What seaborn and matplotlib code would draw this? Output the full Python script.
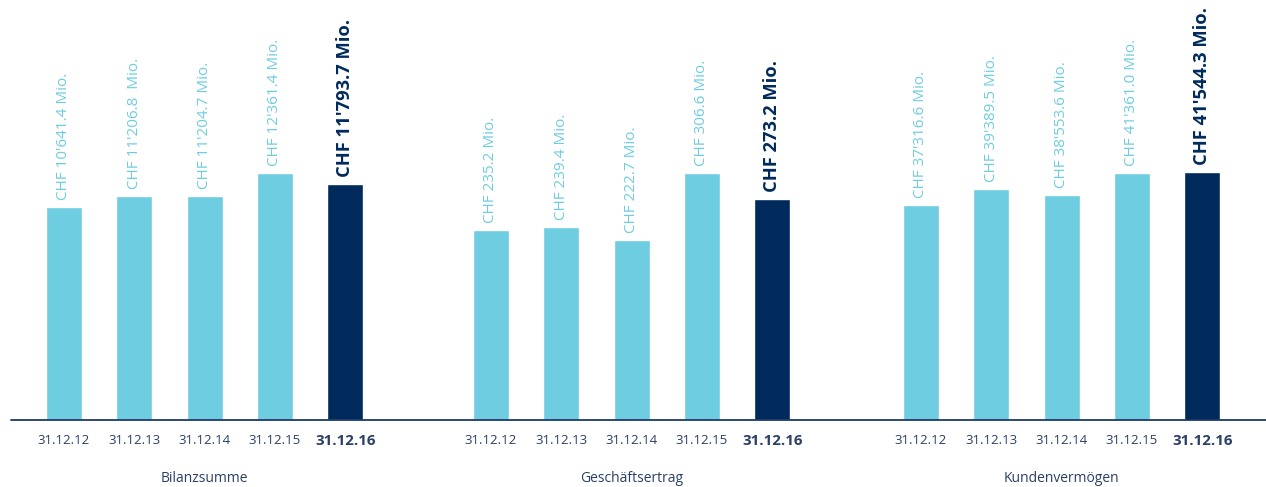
import matplotlib
matplotlib.use("Agg")
import matplotlib.pyplot as plt
from matplotlib.lines import Line2D
import seaborn as sns
import pandas as pd

# Daten
daten = ["31.12.12", "31.12.13", "31.12.14", "31.12.15", "31.12.16"]
kennzahlen = ["Bilanzsumme", "Geschäftsertrag", "Kundenvermögen"]
bilanzsumme = [10641.4, 11206.8, 11204.7, 12361.4, 11793.7]
geschaeftsertrag = [235.2, 239.4, 222.7, 306.6, 273.2]
kundenvermoegen = [37316.6, 39389.5, 38553.6, 41361.0, 41544.3]
beschriftungen = [
    ["CHF 10'641.4 Mio.", "CHF 11'206.8  Mio.", "CHF 11'204.7 Mio.", "CHF 12'361.4 Mio.", "CHF 11'793.7 Mio."],
    ["CHF 235.2 Mio.", "CHF 239.4 Mio.", "CHF 222.7 Mio.", "CHF 306.6 Mio.", "CHF 273.2 Mio."],
    ["CHF 37'316.6 Mio.", "CHF 39'389.5 Mio.", "CHF 38'553.6 Mio.", "CHF 41'361.0 Mio.", "CHF 41'544.3 Mio."],
]
werte = [bilanzsumme, geschaeftsertrag, kundenvermoegen]

hell = "#6ecde0"
dunkel = "#002a5c"
textfarbe = "#2a3f66"
farben = [hell, hell, hell, hell, dunkel]

sns.set_style("white")
plt.rcParams["font.family"] = ["Open Sans", "DejaVu Sans"]

W, H = 1266, 487
fig = plt.figure(figsize=(W / 100, H / 100), dpi=100)

base_px = 419.5          # Grundlinie, px von oben
unit = 70.3              # px pro Balken-Schritt
erste_mitte = [64, 491, 921]
ylims = [(0, 12361.4 * base_px / 247), (0, 306.6 * base_px / 247), (9600, 9600 + base_px * 129.0)]
xlim = (-0.8, 4.8)

for i in range(3):
    left_px = erste_mitte[i] + xlim[0] * unit
    width_px = (xlim[1] - xlim[0]) * unit
    ax = fig.add_axes([left_px / W, (H - base_px) / H, width_px / W, base_px / H])
    df = pd.DataFrame({"datum": daten, "wert": werte[i]})
    sns.barplot(data=df, x="datum", y="wert", hue="datum", palette=farben,
                legend=False, ax=ax, width=0.51, saturation=1)
    ax.set_xlim(*xlim)
    ax.set_ylim(*ylims[i])
    for s in ax.spines.values():
        s.set_visible(False)
    ax.set_yticks([])
    ax.set_ylabel("")
    ax.tick_params(axis="x", length=0, pad=10.5, labelsize=9.5, labelcolor=textfarbe)
    ax.set_xticks(range(5))
    ax.set_xticklabels(daten)
    lbl = ax.get_xticklabels()[-1]
    lbl.set_fontweight("bold")
    lbl.set_fontsize(10.8)
    ax.set_xlabel(kennzahlen[i], fontsize=10, color=textfarbe, labelpad=16.5)

    for j, v in enumerate(werte[i]):
        letzter = j == 4
        ax.annotate(beschriftungen[i][j], (j, v), xytext=(0, 5), textcoords="offset points",
                    rotation=90, ha="center", va="bottom",
                    fontsize=13.2 if letzter else 11,
                    fontweight="bold" if letzter else "normal",
                    color=dunkel if letzter else hell)

y_line = (H - base_px) / H
fig.add_artist(Line2D([11 / W, 1], [y_line, y_line], color="#1d3a66", lw=1.3))

fig.savefig("out.png", dpi=100)
